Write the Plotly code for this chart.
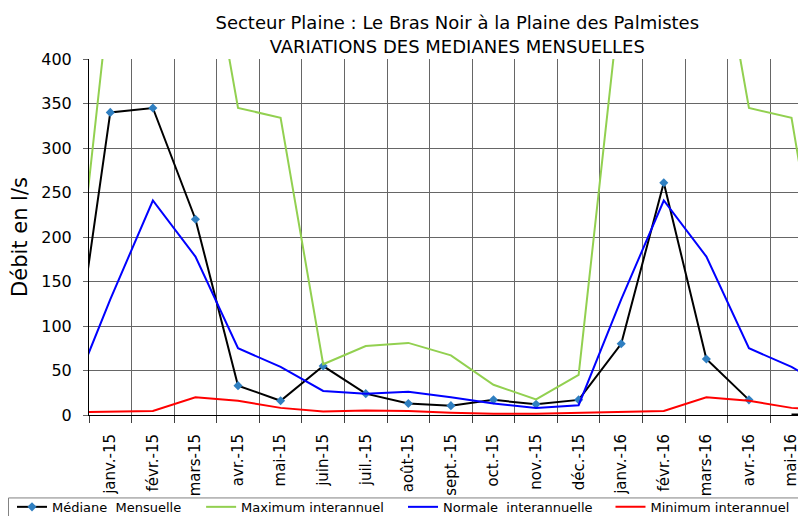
import plotly.graph_objects as go

# Months (déc.-14 and juin-16 only partly visible at the edges)
months = ["déc.-14", "janv.-15", "févr.-15", "mars-15", "avr.-15", "mai-15", "juin-15",
          "juil.-15", "août-15", "sept.-15", "oct.-15", "nov.-15", "déc.-15",
          "janv.-16", "févr.-16", "mars-16", "avr.-16", "mai-16", "juin-16"]

mediane = [4, 340, 345, 220, 33, 16, 55, 24, 13, 10.5, 17, 12, 17,
           80, 261, 63, 17, None, None]
mediane_vide = [None, None, None, None, None, None, None, None, None, None, None, None, None,
                None, None, None, None, 0, 0]
maximum = [45, 480, 650, 615, 345, 334, 57, 77.5, 81, 67, 34, 17.5, 45,
           480, 650, 615, 345, 334, 50]
normale = [11, 130, 241, 178, 75, 54, 27, 24, 26, 20, 13, 8, 11,
           130, 241, 178, 75, 54, 27]
minimum = [3, 4, 4.5, 20, 16, 8, 4, 5, 4.5, 2.6, 1.5, 1.5, 2.5,
           4, 4.5, 20, 16, 8, 5]

x = list(range(len(months)))

fig = go.Figure()

fig.add_trace(go.Scatter(
    x=x, y=mediane, name="Médiane  Mensuelle", mode="lines+markers",
    line=dict(color="#000000", width=2),
    marker=dict(symbol="diamond", size=7, color="#2f7fc1"),
    legend="legend",
))
fig.add_trace(go.Scatter(
    x=x, y=maximum, name="Maximum interannuel", mode="lines",
    line=dict(color="#92d050", width=2),
    legend="legend2",
))
fig.add_trace(go.Scatter(
    x=x, y=normale, name="Normale  interannuelle", mode="lines",
    line=dict(color="#0000ff", width=2),
    legend="legend3",
))
fig.add_trace(go.Scatter(
    x=x, y=minimum, name="Minimum interannuel", mode="lines",
    line=dict(color="#ff0000", width=2),
    legend="legend4",
))
fig.add_trace(go.Scatter(
    x=x, y=mediane_vide, mode="lines", showlegend=False,
    line=dict(color="#000000", width=3),
))

# one legend per series so the entries sit where the original puts them
leg = dict(orientation="h", xref="container", yref="container", xanchor="left",
           y=0.087, yanchor="top", font=dict(size=13), borderwidth=0,
           bgcolor="rgba(0,0,0,0)")

# page body has an 8px margin; the figure runs past the bottom edge a bit
fig.update_layout(
    width=798, height=530,
    margin=dict(l=81, r=0, t=51, b=123, autoexpand=False),
    paper_bgcolor="white", plot_bgcolor="white",
    font=dict(family="DejaVu Sans", color="#000000"),
    title=dict(
        text="Secteur Plaine : Le Bras Noir à la Plaine des Palmistes<br>VARIATIONS DES MEDIANES MENSUELLES",
        x=0.563, xanchor="center", xref="container",
        y=0.96, yanchor="top", yref="container",
        font=dict(size=18, color="#000000"),
    ),
    showlegend=True,
    legend=dict(leg, x=0.005),
    legend2=dict(leg, x=0.242),
    legend3=dict(leg, x=0.495),
    legend4=dict(leg, x=0.755),
    shapes=[dict(type="rect", xref="paper", yref="paper",
                 x0=-0.1123, x1=1.01, y0=-0.233, y1=-0.32,
                 line=dict(color="#808080", width=1), layer="below")],
)

fig.update_xaxes(
    range=[0.5, 17.34], automargin=False,
    tickmode="array", tickvals=x, ticktext=months, tickangle=-90,
    tickfont=dict(size=15),
    ticks="", showgrid=False, ticklabelstandoff=12,
    showline=True, linecolor="#000000", linewidth=1,
    zeroline=False,
    minor=dict(tick0=0.5, dtick=1, showgrid=True, gridcolor="#666666", gridwidth=1,
               ticks="outside", ticklen=7, tickcolor="#404040"),
)

fig.update_yaxes(
    range=[0, 400], dtick=50, automargin=False,
    tickfont=dict(size=16),
    ticks="outside", ticklen=5, tickcolor="#666666",
    showgrid=True, gridcolor="#666666", gridwidth=1,
    showline=True, linecolor="#000000", linewidth=1,
    zeroline=False, ticklabelstandoff=8,
    title=dict(text="Débit en l/s", font=dict(size=21), standoff=8),
)

fig.write_html("out.html")
